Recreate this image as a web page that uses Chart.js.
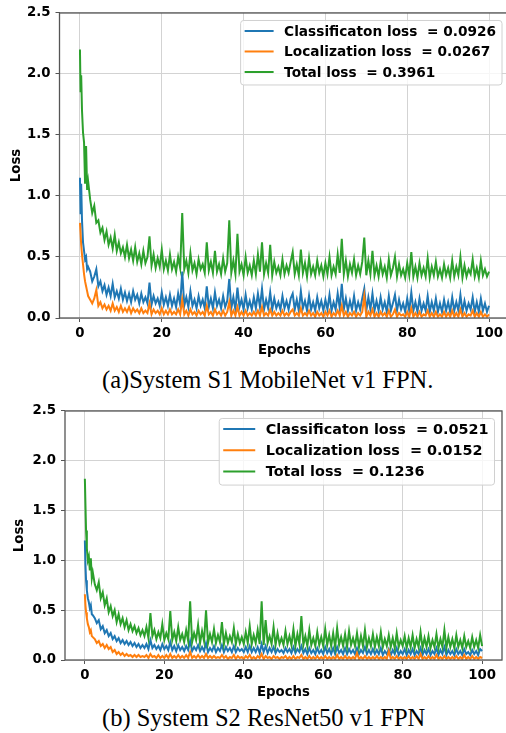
<!DOCTYPE html>
<html>
<head>
<meta charset="utf-8">
<script src="https://cdn.jsdelivr.net/npm/chart.js@4.4.1/dist/chart.umd.min.js"></script>
<style>
  html, body { margin: 0; padding: 0; background: #fff; width: 506px; height: 733px; overflow: hidden; }
  .wrap { position: absolute; left: 0; }
  .caption { position: absolute; left: 102px; white-space: nowrap; font-family: "Liberation Serif", serif; font-size: 24.5px; line-height: 28px; color: #000; }
</style>
</head>
<body>
<div class="wrap" style="top:0"><canvas id="chartS1" width="510" height="360"></canvas></div>
<div class="caption" style="top:366px">(a)System S1 MobileNet v1 FPN.</div>
<div class="wrap" style="top:398px"><canvas id="chartS2" width="506" height="304"></canvas></div>
<div class="caption" style="top:704px">(b) System S2 ResNet50 v1 FPN</div>
<script>
// Epochs (x positions of the samples)
const epochs = [0, 0.15, 0.3, 0.5, 0.75, 1, 1.25, 1.5, 1.75, 2,
  2.5, 3, 3.5, 4, 4.5, 5, 5.5, 6, 6.5, 7, 7.5, 8, 8.5, 9, 9.5, 10, 10.5, 11, 11.5, 12,
  12.5, 13, 13.5, 14, 14.5, 15, 15.5, 16, 16.5, 17, 17.5, 18, 18.5, 19, 19.5, 20, 20.5, 21, 21.5, 22,
  22.5, 23, 23.5, 24, 24.5, 25, 25.5, 26, 26.5, 27, 27.5, 28, 28.5, 29, 29.5, 30, 30.5, 31, 31.5, 32,
  32.5, 33, 33.5, 34, 34.5, 35, 35.5, 36, 36.5, 37, 37.5, 38, 38.5, 39, 39.5, 40, 40.5, 41, 41.5, 42,
  42.5, 43, 43.5, 44, 44.5, 45, 45.5, 46, 46.5, 47, 47.5, 48, 48.5, 49, 49.5, 50, 50.5, 51, 51.5, 52,
  52.5, 53, 53.5, 54, 54.5, 55, 55.5, 56, 56.5, 57, 57.5, 58, 58.5, 59, 59.5, 60, 60.5, 61, 61.5, 62,
  62.5, 63, 63.5, 64, 64.5, 65, 65.5, 66, 66.5, 67, 67.5, 68, 68.5, 69, 69.5, 70, 70.5, 71, 71.5, 72,
  72.5, 73, 73.5, 74, 74.5, 75, 75.5, 76, 76.5, 77, 77.5, 78, 78.5, 79, 79.5, 80, 80.5, 81, 81.5, 82,
  82.5, 83, 83.5, 84, 84.5, 85, 85.5, 86, 86.5, 87, 87.5, 88, 88.5, 89, 89.5, 90, 90.5, 91, 91.5, 92,
  92.5, 93, 93.5, 94, 94.5, 95, 95.5, 96, 96.5, 97, 97.5, 98, 98.5, 99, 99.5, 100];

const xTicks = [0, 20, 40, 60, 80, 100];
const yTicks = [0, 0.5, 1.0, 1.5, 2.0, 2.5];

// System S1 - MobileNet v1 FPN
const s1Labels = ['Classificaton loss  = 0.0926', 'Localization loss  = 0.0267', 'Total loss  = 0.3961'];
const s1Cls = [1.15, 0.85, 1.10, 0.80, 0.62, 0.55, 0.48, 0.50, 0.40, 0.42,
  0.38, 0.30, 0.34, 0.40, 0.26, 0.30, 0.22, 0.27, 0.19, 0.25, 0.18, 0.28, 0.17, 0.22, 0.16, 0.24, 0.15, 0.21, 0.14, 0.20,
  0.13, 0.22, 0.15, 0.19, 0.12, 0.20, 0.13, 0.17, 0.12, 0.29, 0.11, 0.18, 0.12, 0.16, 0.10, 0.21, 0.11, 0.17, 0.10, 0.19,
  0.10, 0.16, 0.09, 0.20, 0.11, 0.38, 0.10, 0.17, 0.09, 0.22, 0.10, 0.15, 0.08, 0.18, 0.10, 0.15, 0.08, 0.26, 0.09, 0.16,
  0.08, 0.21, 0.10, 0.15, 0.08, 0.18, 0.09, 0.14, 0.32, 0.08, 0.17, 0.07, 0.25, 0.09, 0.15, 0.07, 0.19, 0.08, 0.14, 0.07,
  0.17, 0.08, 0.20, 0.09, 0.24, 0.07, 0.15, 0.08, 0.21, 0.07, 0.16, 0.08, 0.13, 0.07, 0.18, 0.08, 0.14, 0.07, 0.16, 0.20,
  0.07, 0.15, 0.06, 0.22, 0.08, 0.14, 0.06, 0.18, 0.07, 0.13, 0.06, 0.17, 0.08, 0.14, 0.06, 0.15, 0.07, 0.19, 0.06, 0.13,
  0.07, 0.20, 0.08, 0.28, 0.07, 0.16, 0.06, 0.14, 0.07, 0.18, 0.06, 0.13, 0.07, 0.16, 0.24, 0.06, 0.17, 0.07, 0.20, 0.06,
  0.14, 0.06, 0.17, 0.07, 0.13, 0.05, 0.18, 0.06, 0.12, 0.19, 0.06, 0.15, 0.07, 0.12, 0.05, 0.16, 0.06, 0.21, 0.06, 0.13,
  0.05, 0.16, 0.06, 0.12, 0.06, 0.18, 0.05, 0.13, 0.06, 0.16, 0.05, 0.12, 0.05, 0.15, 0.06, 0.13, 0.05, 0.17, 0.06, 0.13,
  0.06, 0.19, 0.05, 0.14, 0.06, 0.12, 0.07, 0.17, 0.05, 0.13, 0.05, 0.16, 0.06, 0.12, 0.05, 0.10];
const s1Loc = [0.78, 0.70, 0.60, 0.52, 0.44, 0.36, 0.30, 0.26, 0.22, 0.18,
  0.15, 0.12, 0.16, 0.23, 0.10, 0.13, 0.08, 0.11, 0.07, 0.10, 0.06, 0.12, 0.06, 0.09, 0.05, 0.10, 0.05, 0.08, 0.05, 0.09,
  0.04, 0.08, 0.05, 0.07, 0.04, 0.08, 0.04, 0.06, 0.04, 0.12, 0.03, 0.07, 0.04, 0.06, 0.03, 0.08, 0.03, 0.06, 0.03, 0.07,
  0.03, 0.05, 0.03, 0.07, 0.03, 0.15, 0.03, 0.06, 0.02, 0.07, 0.03, 0.05, 0.02, 0.06, 0.03, 0.05, 0.02, 0.10, 0.03, 0.05,
  0.02, 0.07, 0.03, 0.05, 0.02, 0.06, 0.02, 0.05, 0.13, 0.02, 0.06, 0.02, 0.09, 0.02, 0.05, 0.02, 0.06, 0.02, 0.04, 0.02,
  0.05, 0.02, 0.06, 0.02, 0.09, 0.02, 0.04, 0.02, 0.07, 0.02, 0.05, 0.02, 0.04, 0.02, 0.06, 0.02, 0.04, 0.02, 0.05, 0.07,
  0.02, 0.04, 0.02, 0.08, 0.02, 0.04, 0.02, 0.06, 0.02, 0.04, 0.01, 0.05, 0.02, 0.04, 0.01, 0.05, 0.02, 0.06, 0.01, 0.04,
  0.02, 0.06, 0.02, 0.10, 0.02, 0.05, 0.01, 0.04, 0.02, 0.05, 0.01, 0.04, 0.02, 0.05, 0.18, 0.01, 0.05, 0.02, 0.07, 0.01,
  0.04, 0.01, 0.05, 0.02, 0.04, 0.01, 0.06, 0.01, 0.03, 0.07, 0.01, 0.04, 0.02, 0.03, 0.01, 0.05, 0.01, 0.08, 0.01, 0.04,
  0.01, 0.05, 0.01, 0.03, 0.02, 0.06, 0.01, 0.04, 0.01, 0.05, 0.01, 0.03, 0.01, 0.05, 0.01, 0.04, 0.01, 0.06, 0.01, 0.04,
  0.01, 0.07, 0.01, 0.04, 0.01, 0.03, 0.02, 0.06, 0.01, 0.04, 0.01, 0.05, 0.01, 0.03, 0.01, 0.03];
const s1Total = [2.20, 1.85, 1.99, 1.70, 1.52, 1.44, 1.10, 1.41, 1.05, 1.12,
  0.97, 0.86, 0.92, 0.78, 0.80, 0.70, 0.74, 0.64, 0.71, 0.60, 0.66, 0.57, 0.68, 0.55, 0.62, 0.53, 0.58, 0.50, 0.60, 0.49,
  0.56, 0.47, 0.58, 0.46, 0.53, 0.44, 0.55, 0.45, 0.50, 0.67, 0.43, 0.52, 0.41, 0.49, 0.42, 0.56, 0.40, 0.47, 0.39, 0.52,
  0.40, 0.46, 0.38, 0.50, 0.41, 0.86, 0.40, 0.47, 0.37, 0.53, 0.39, 0.45, 0.36, 0.48, 0.40, 0.44, 0.37, 0.62, 0.39, 0.46,
  0.37, 0.55, 0.38, 0.44, 0.36, 0.49, 0.38, 0.45, 0.80, 0.37, 0.47, 0.36, 0.69, 0.38, 0.44, 0.35, 0.50, 0.37, 0.43, 0.35,
  0.47, 0.36, 0.52, 0.38, 0.62, 0.36, 0.45, 0.37, 0.60, 0.35, 0.46, 0.37, 0.42, 0.35, 0.48, 0.36, 0.43, 0.37, 0.46, 0.54,
  0.36, 0.44, 0.35, 0.56, 0.37, 0.45, 0.34, 0.49, 0.36, 0.42, 0.35, 0.47, 0.37, 0.43, 0.34, 0.45, 0.36, 0.50, 0.35, 0.42,
  0.36, 0.52, 0.37, 0.65, 0.36, 0.47, 0.34, 0.44, 0.37, 0.48, 0.35, 0.43, 0.36, 0.46, 0.66, 0.35, 0.47, 0.36, 0.55, 0.35,
  0.43, 0.34, 0.46, 0.36, 0.42, 0.33, 0.48, 0.35, 0.41, 0.50, 0.34, 0.44, 0.35, 0.40, 0.33, 0.45, 0.35, 0.54, 0.34, 0.42,
  0.33, 0.45, 0.35, 0.41, 0.34, 0.49, 0.33, 0.42, 0.35, 0.46, 0.34, 0.40, 0.33, 0.44, 0.35, 0.41, 0.33, 0.47, 0.34, 0.42,
  0.35, 0.50, 0.33, 0.43, 0.34, 0.40, 0.36, 0.48, 0.34, 0.41, 0.33, 0.47, 0.35, 0.40, 0.34, 0.38];

// System S2 - ResNet50 v1 FPN
const s2Labels = ['Classificaton loss  = 0.0521', 'Localization loss  = 0.0152', 'Total loss  = 0.1236'];
const s2Cls = [1.20, 0.95, 0.80, 0.70, 0.62, 0.58, 0.52, 0.55, 0.46, 0.45,
  0.42, 0.37, 0.40, 0.31, 0.34, 0.27, 0.30, 0.24, 0.27, 0.21, 0.24, 0.19, 0.22, 0.17, 0.20, 0.16, 0.19, 0.15, 0.18, 0.14,
  0.17, 0.13, 0.16, 0.12, 0.15, 0.12, 0.16, 0.11, 0.20, 0.12, 0.15, 0.11, 0.14, 0.10, 0.16, 0.11, 0.14, 0.10, 0.18, 0.10,
  0.14, 0.09, 0.15, 0.10, 0.13, 0.09, 0.14, 0.10, 0.19, 0.09, 0.13, 0.10, 0.15, 0.09, 0.13, 0.09, 0.17, 0.08, 0.12, 0.09,
  0.14, 0.08, 0.12, 0.09, 0.15, 0.08, 0.13, 0.09, 0.12, 0.08, 0.14, 0.08, 0.12, 0.09, 0.11, 0.08, 0.13, 0.08, 0.14, 0.08,
  0.12, 0.08, 0.13, 0.07, 0.16, 0.08, 0.14, 0.07, 0.12, 0.08, 0.13, 0.07, 0.11, 0.08, 0.10, 0.07, 0.12, 0.08, 0.11, 0.07,
  0.13, 0.07, 0.11, 0.08, 0.14, 0.07, 0.11, 0.06, 0.12, 0.07, 0.10, 0.06, 0.12, 0.07, 0.10, 0.06, 0.13, 0.07, 0.11, 0.06,
  0.12, 0.06, 0.13, 0.07, 0.10, 0.06, 0.12, 0.06, 0.11, 0.07, 0.10, 0.06, 0.12, 0.06, 0.10, 0.07, 0.13, 0.06, 0.10, 0.06,
  0.11, 0.06, 0.10, 0.06, 0.12, 0.05, 0.09, 0.06, 0.11, 0.05, 0.10, 0.06, 0.12, 0.05, 0.09, 0.06, 0.11, 0.05, 0.10, 0.06,
  0.11, 0.05, 0.09, 0.06, 0.12, 0.05, 0.10, 0.06, 0.11, 0.05, 0.09, 0.06, 0.12, 0.05, 0.10, 0.06, 0.13, 0.05, 0.10, 0.06,
  0.09, 0.05, 0.11, 0.06, 0.09, 0.05, 0.11, 0.06, 0.08, 0.05, 0.10, 0.06, 0.09, 0.05, 0.11, 0.09];
const s2Loc = [0.66, 0.55, 0.48, 0.42, 0.36, 0.33, 0.28, 0.30, 0.24, 0.23,
  0.21, 0.17, 0.19, 0.14, 0.16, 0.12, 0.15, 0.11, 0.13, 0.08, 0.10, 0.06, 0.08, 0.05, 0.07, 0.04, 0.06, 0.04, 0.05, 0.03,
  0.05, 0.03, 0.05, 0.03, 0.04, 0.03, 0.05, 0.02, 0.06, 0.03, 0.04, 0.02, 0.05, 0.02, 0.04, 0.02, 0.05, 0.02, 0.06, 0.02,
  0.04, 0.02, 0.05, 0.02, 0.04, 0.02, 0.05, 0.02, 0.08, 0.02, 0.04, 0.02, 0.05, 0.02, 0.04, 0.02, 0.06, 0.02, 0.04, 0.02,
  0.04, 0.02, 0.03, 0.02, 0.05, 0.02, 0.04, 0.01, 0.03, 0.02, 0.05, 0.01, 0.04, 0.02, 0.03, 0.01, 0.04, 0.02, 0.05, 0.01,
  0.03, 0.01, 0.04, 0.02, 0.06, 0.01, 0.04, 0.02, 0.03, 0.01, 0.04, 0.02, 0.03, 0.01, 0.03, 0.02, 0.04, 0.01, 0.03, 0.01,
  0.04, 0.01, 0.03, 0.02, 0.05, 0.01, 0.03, 0.01, 0.04, 0.01, 0.03, 0.01, 0.04, 0.01, 0.03, 0.01, 0.04, 0.01, 0.03, 0.01,
  0.03, 0.01, 0.05, 0.01, 0.03, 0.01, 0.04, 0.01, 0.03, 0.01, 0.03, 0.01, 0.07, 0.01, 0.03, 0.01, 0.04, 0.01, 0.03, 0.01,
  0.03, 0.01, 0.04, 0.01, 0.03, 0.01, 0.03, 0.01, 0.09, 0.01, 0.03, 0.01, 0.04, 0.01, 0.03, 0.01, 0.03, 0.01, 0.04, 0.01,
  0.03, 0.01, 0.04, 0.01, 0.06, 0.01, 0.03, 0.01, 0.04, 0.01, 0.03, 0.01, 0.05, 0.01, 0.03, 0.01, 0.04, 0.01, 0.03, 0.01,
  0.03, 0.01, 0.04, 0.01, 0.03, 0.01, 0.05, 0.01, 0.03, 0.01, 0.04, 0.01, 0.03, 0.01, 0.03, 0.02];
const s2Total = [1.82, 1.55, 1.30, 1.12, 1.00, 1.04, 0.90, 1.02, 0.82, 0.88,
  0.76, 0.70, 0.78, 0.62, 0.68, 0.55, 0.62, 0.48, 0.54, 0.44, 0.50, 0.38, 0.46, 0.36, 0.42, 0.33, 0.40, 0.30, 0.36, 0.29,
  0.34, 0.27, 0.32, 0.25, 0.30, 0.24, 0.33, 0.22, 0.47, 0.24, 0.30, 0.21, 0.28, 0.22, 0.36, 0.20, 0.27, 0.21, 0.49, 0.20,
  0.28, 0.19, 0.33, 0.20, 0.26, 0.18, 0.30, 0.19, 0.59, 0.18, 0.27, 0.20, 0.35, 0.17, 0.29, 0.19, 0.50, 0.17, 0.26, 0.18,
  0.31, 0.17, 0.25, 0.18, 0.38, 0.16, 0.27, 0.17, 0.24, 0.18, 0.32, 0.16, 0.26, 0.17, 0.23, 0.16, 0.28, 0.17, 0.34, 0.16,
  0.25, 0.17, 0.30, 0.16, 0.59, 0.15, 0.40, 0.17, 0.24, 0.16, 0.33, 0.15, 0.27, 0.16, 0.22, 0.15, 0.29, 0.16, 0.24, 0.15,
  0.31, 0.14, 0.26, 0.16, 0.44, 0.15, 0.24, 0.14, 0.30, 0.15, 0.22, 0.14, 0.28, 0.15, 0.23, 0.14, 0.31, 0.15, 0.25, 0.14,
  0.27, 0.13, 0.32, 0.15, 0.23, 0.14, 0.26, 0.13, 0.29, 0.15, 0.22, 0.14, 0.27, 0.13, 0.24, 0.14, 0.30, 0.13, 0.22, 0.14,
  0.26, 0.13, 0.23, 0.14, 0.28, 0.13, 0.21, 0.14, 0.25, 0.13, 0.22, 0.12, 0.27, 0.13, 0.20, 0.14, 0.24, 0.12, 0.22, 0.13,
  0.25, 0.12, 0.21, 0.13, 0.28, 0.12, 0.22, 0.13, 0.24, 0.12, 0.20, 0.13, 0.26, 0.12, 0.21, 0.13, 0.30, 0.12, 0.23, 0.13,
  0.21, 0.12, 0.25, 0.13, 0.20, 0.12, 0.24, 0.13, 0.19, 0.12, 0.23, 0.13, 0.20, 0.12, 0.25, 0.14];

const colors = ['#1f77b4', '#ff7f0e', '#2ca02c'];
const axisFont = { family: '"DejaVu Sans"', size: 13.3, weight: 'bold' };

// Frame around the plot area (matplotlib spines)
const frame = {
    id: 'frame',
    afterDatasetsDraw(chart) {
        const { ctx, chartArea: a } = chart;
        ctx.save();
        ctx.strokeStyle = '#555';
        ctx.lineWidth = 1.3;
        ctx.strokeRect(a.left, a.top, a.right - a.left, a.bottom - a.top);
        ctx.restore();
    }
};

// Legend drawn inside the plot, upper right
const insideLegend = {
    id: 'insideLegend',
    afterDraw(chart, args, opts) {
        const { ctx, chartArea } = chart;
        const sets = chart.data.datasets;
        ctx.save();
        ctx.font = 'bold ' + opts.size + 'px "DejaVu Sans"';
        const textW = Math.max(...sets.map(d => ctx.measureText(d.label).width));
        const w = 4 + opts.handle + opts.gap + textW + 6;
        const h = opts.rowH * sets.length + 3;
        const x = chartArea.right - opts.inset - w;
        const y = chartArea.top + opts.inset;
        ctx.beginPath();
        ctx.roundRect(x, y, w, h, 3);
        ctx.fillStyle = 'rgba(255,255,255,0.8)';
        ctx.fill();
        ctx.strokeStyle = '#d0d0d0';
        ctx.lineWidth = 1;
        ctx.stroke();
        sets.forEach((d, i) => {
            const cy = y + 10.5 + i * opts.rowH;
            ctx.beginPath();
            ctx.moveTo(x + 4, cy);
            ctx.lineTo(x + 4 + opts.handle, cy);
            ctx.strokeStyle = d.borderColor;
            ctx.lineWidth = 2;
            ctx.stroke();
            ctx.fillStyle = '#000';
            ctx.textBaseline = 'middle';
            ctx.fillText(d.label, x + 4 + opts.handle + opts.gap, cy + 1);
        });
        ctx.restore();
    }
};

function makeChart(id, labels, series, s) {
    const ctx = document.getElementById(id).getContext('2d');
    const datasets = series.map((vals, i) => ({
        label: labels[i],
        data: epochs.map((e, k) => ({ x: e, y: vals[k] })),
        borderColor: colors[i],
        borderWidth: 2,
        pointRadius: 0,
        tension: 0,
        order: 2 - i
    }));

    return new Chart(ctx, {
        type: 'line',
        data: { datasets },
        options: {
            responsive: false,
            animation: false,
            devicePixelRatio: 1,
            layout: { padding: { top: 9, right: s.right, left: 0, bottom: 0 } },
            plugins: {
                legend: { display: false },
                tooltip: { enabled: false },
                insideLegend: { size: s.legendSize, rowH: s.rowH, handle: s.handle, gap: 10.5, inset: 7.5 }
            },
            scales: {
                x: {
                    type: 'linear',
                    min: -5,
                    max: 105,
                    afterBuildTicks: sc => { sc.ticks = xTicks.map(v => ({ value: v })); },
                    afterFit: sc => { sc.height = 42; },
                    ticks: { font: axisFont, color: '#000', padding: 4, maxRotation: 0 },
                    grid: { color: '#d3d3d3', lineWidth: 1, tickLength: 4, tickColor: '#555' },
                    border: { display: false },
                    title: { display: true, text: 'Epochs', font: axisFont, color: '#000', padding: { top: 0, bottom: 1 } }
                },
                y: {
                    min: 0,
                    max: 2.5,
                    afterBuildTicks: sc => { sc.ticks = yTicks.map(v => ({ value: v })); },
                    afterFit: sc => { sc.width = s.yWidth; },
                    ticks: { font: axisFont, color: '#000', padding: 5, callback: v => v.toFixed(1) },
                    grid: { color: '#d3d3d3', lineWidth: 1, tickLength: 4, tickColor: '#555' },
                    border: { display: false },
                    title: { display: true, text: 'Loss', font: axisFont, color: '#000', padding: { top: s.titlePad, bottom: 0 } }
                }
            }
        },
        plugins: [frame, insideLegend]
    });
}

makeChart('chartS1', s1Labels, [s1Cls, s1Loc, s1Total],
    { right: 0.5, yWidth: 59.5, titlePad: 9, legendSize: 13.7, rowH: 20.5, handle: 29 });
makeChart('chartS2', s2Labels, [s2Cls, s2Loc, s2Total],
    { right: 4, yWidth: 65, titlePad: 12, legendSize: 14.4, rowH: 21.2, handle: 32 });
</script>
</body>
</html>
